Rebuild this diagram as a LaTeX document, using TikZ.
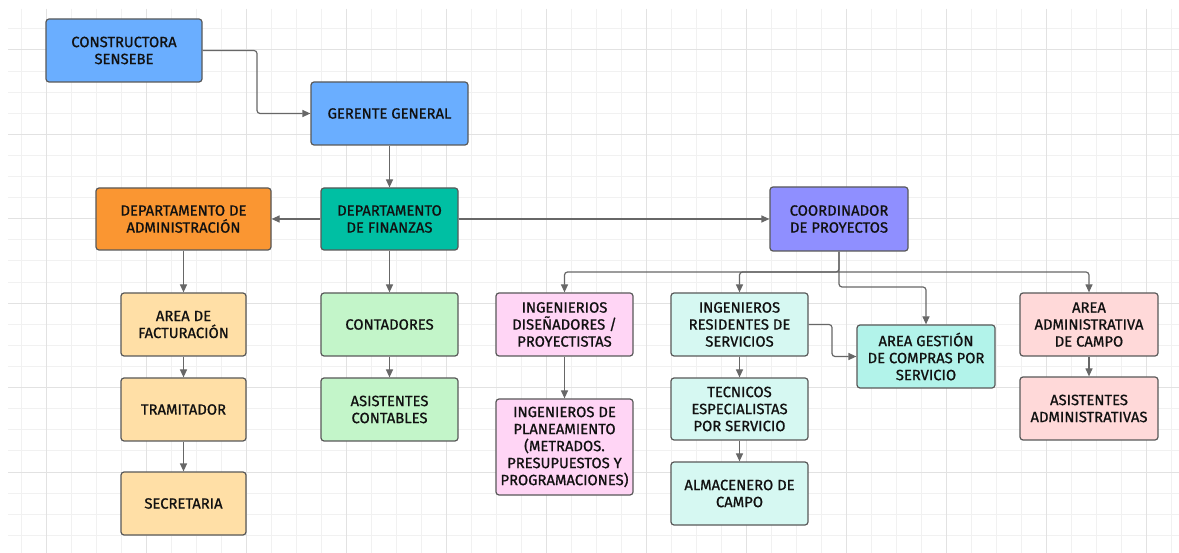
\documentclass[tikz,border=0pt]{standalone}
\usepackage{fontspec}
\setmainfont{Fira Sans}
\newfontfamily\boxfont{Fira Sans}[FakeBold=0.9]
\usetikzlibrary{arrows.meta}
\definecolor{bordc}{HTML}{595959}
\definecolor{linec}{HTML}{676767}
\definecolor{txtc}{HTML}{111111}
\definecolor{gminor}{HTML}{F1F1F1}
\definecolor{gmajor}{HTML}{E2E2E2}
\definecolor{cblue}{HTML}{6AAEFF}
\definecolor{corange}{HTML}{FA9632}
\definecolor{cteal}{HTML}{00BFA3}
\definecolor{cpurple}{HTML}{8F8FFF}
\definecolor{cpeach}{HTML}{FFDFA6}
\definecolor{cgreen}{HTML}{C3F5C9}
\definecolor{cpink}{HTML}{FFD5F5}
\definecolor{ccyan}{HTML}{D6F8F2}
\definecolor{caqua}{HTML}{B2F3EA}
\definecolor{crose}{HTML}{FFD9D9}
\tikzset{
  bx/.style={draw=bordc, line width=1.2pt, rounded corners=3pt, align=center,
    inner sep=1pt, minimum width=137pt, minimum height=63pt, text=txtc,
    font=\boxfont\fontsize{14.8}{17}\selectfont},
  ln/.style={draw=linec, line width=1.2pt, rounded corners=3pt,
    -{Triangle[length=8pt,width=7pt]}},
  gmin/.style={draw=gminor, line width=1pt},
  gmaj/.style={draw=gmajor, line width=1pt}
}
\begin{document}
\begin{tikzpicture}[x=1pt,y=-1pt]
\useasboundingbox[fill=white] (0,0) rectangle (1179,553);
% grid
\foreach \k in {0,...,46} { \draw[gmin] (21+25*\k,9) -- (21+25*\k,553); }
\foreach \k in {0,...,24} { \draw[gmin] (8,28.9+21.1*\k) -- (1179,28.9+21.1*\k); }
\foreach \k in {0,...,11} { \draw[gmaj] (46+100*\k,9) -- (46+100*\k,553); }
\foreach \k in {0,...,5} { \draw[gmaj] (8,50+84.4*\k) -- (1179,50+84.4*\k); }
% boxes
\node[bx, fill=cblue, minimum width=156pt] (cons) at (124,50.5) {CONSTRUCTORA\\SENSEBE};
\node[bx, fill=cblue, minimum width=157pt] (ger) at (389.5,113.5) {GERENTE GENERAL};
\node[bx, fill=corange, minimum width=175pt, minimum height=62pt] (adm) at (183.5,219) {DEPARTAMENTO DE\\ADMINISTRACIÓN};
\node[bx, fill=cteal, minimum height=62pt] (fin) at (389.5,219) {DEPARTAMENTO\\DE FINANZAS};
\node[bx, fill=cpurple, minimum width=138pt, minimum height=64pt] (coord) at (839,219) {COORDINADOR\\DE PROYECTOS};
\node[bx, fill=cpeach, minimum width=125pt] (fac) at (183.5,324.5) {AREA DE\\FACTURACIÓN};
\node[bx, fill=cpeach, minimum width=125pt] (tra) at (183.5,409.5) {TRAMITADOR};
\node[bx, fill=cpeach, minimum width=125pt] (sec) at (183.5,503.5) {SECRETARIA};
\node[bx, fill=cgreen] (cont) at (389.5,324.5) {CONTADORES};
\node[bx, fill=cgreen] (ascont) at (389.5,409.5) {ASISTENTES\\CONTABLES};
\node[bx, fill=cpink] (dis) at (564.5,324.5) {INGENIERIOS\\DISEÑADORES /\\PROYECTISTAS};
\node[bx, fill=cpink, minimum height=96pt] (plan) at (564.5,447) {INGENIEROS DE\\PLANEAMIENTO\\(METRADOS.\\PRESUPUESTOS Y\\PROGRAMACIONES)};
\node[bx, fill=ccyan] (res) at (739.5,324.5) {INGENIEROS\\RESIDENTES DE\\SERVICIOS};
\node[bx, fill=ccyan, minimum height=62pt] (tec) at (739.5,409) {TECNICOS\\ESPECIALISTAS\\POR SERVICIO};
\node[bx, fill=ccyan] (alm) at (739.5,493.5) {ALMACENERO DE\\CAMPO};
\node[bx, fill=caqua, minimum width=138pt] (ges) at (926,356.5) {AREA GESTIÓN\\DE COMPRAS POR\\SERVICIO};
\node[bx, fill=crose, minimum width=138pt] (acampo) at (1089,324.5) {AREA\\ADMINISTRATIVA\\DE CAMPO};
\node[bx, fill=crose, minimum width=138pt] (asadm) at (1089,408.5) {ASISTENTES\\ADMINISTRATIVAS};
% connectors
\coordinate (c1) at (257,50.5);
\draw[ln] (cons.east) -- (c1) |- (ger.west);
\draw[ln] (ger.south) -- (fin.north);
\draw[ln] (fin.west) -- (adm.east);
\draw[ln] (fin.east) -- (coord.west);
\draw[ln] (adm.south) -- (fac.north);
\draw[ln] (fac.south) -- (tra.north);
\draw[ln] (tra.south) -- (sec.north);
\draw[ln] (fin.south) -- (cont.north);
\draw[ln] (cont.south) -- (ascont.north);
\coordinate (bus) at (839,272);
\coordinate (bus2) at (839,287);
\draw[ln] (coord.south) -- (bus) -| (dis.north);
\draw[ln] (bus) -| (res.north);
\draw[ln] (bus) -| (acampo.north);
\draw[ln] (coord.south) -- (bus2) -| (ges.north);
\coordinate (r1) at (832,324.5);
\draw[ln] (res.east) -- (r1) |- (ges.west);
\draw[ln] (dis.south) -- (plan.north);
\draw[ln] (res.south) -- (tec.north);
\draw[ln] (tec.south) -- (alm.north);
\draw[ln] (acampo.south) -- (asadm.north);
\end{tikzpicture}
\end{document}
